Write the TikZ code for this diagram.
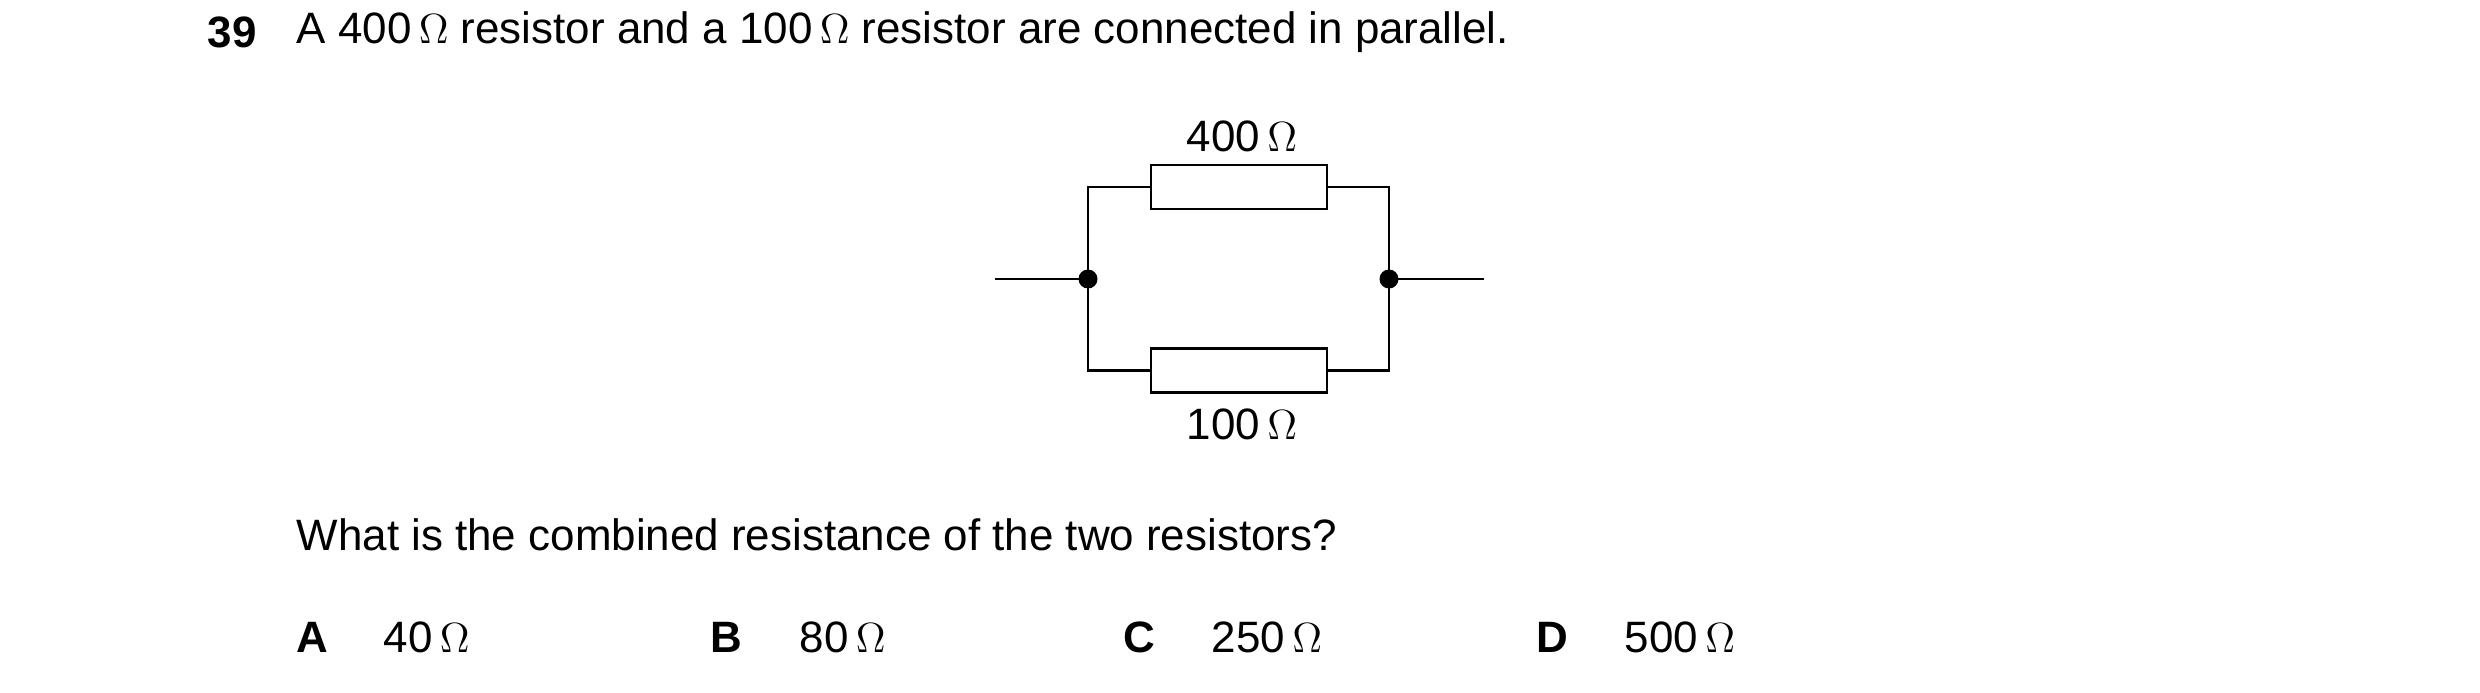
\documentclass[tikz,border=0pt]{standalone}
\usepackage{fontspec}
\setmainfont{Liberation Sans}
\usetikzlibrary{positioning}
\tikzset{
  txt/.style={anchor=west,inner sep=0pt,font=\fontsize{12.5}{15}\selectfont},
  res/.style={draw,thick,minimum width=1.76cm,minimum height=0.44cm,inner sep=0pt},
  wire/.style={thick}
}
\begin{document}
\begin{tikzpicture}
\useasboundingbox (0,0) rectangle (24.8,6.92);
%question
\node[txt,font=\fontsize{12.5}{15}\selectfont\bfseries] (num) at (2.07,6.60){39};
\node[txt] (q) at (2.96,6.60){A 400\,$\Omega$ resistor and a 100\,$\Omega$ resistor are connected in parallel.};
%circuit
\coordinate (inL) at (9.95,4.13);
\coordinate (inR) at (14.84,4.13);
\coordinate (jL) at (10.88,4.13);
\coordinate (jR) at (13.89,4.13);
\node[res] (r1) at (12.39,5.05){};
\node[res] (r2) at (12.39,3.215){};
\draw[wire] (inL) -- (jL) |- (r1.west);
\draw[wire] (jL) |- (r2.west);
\draw[wire] (inR) -- (jR) |- (r1.east);
\draw[wire] (jR) |- (r2.east);
\fill (jL) circle (0.095); \fill (jR) circle (0.095);
\node[font=\fontsize{12.5}{15}\selectfont,inner sep=0pt] (l1) at (12.42,5.56){400\,$\Omega$};
\node[font=\fontsize{12.5}{15}\selectfont,inner sep=0pt] (l2) at (12.42,2.68){100\,$\Omega$};
%options
\node[txt] (ask) at (2.96,1.57){What is the combined resistance of the two resistors?};
\node[txt,font=\fontsize{12.5}{15}\selectfont\bfseries] (oA) at (2.96,0.55){A};
\node[txt] (vA) at (3.83,0.55){40\,$\Omega$};
\node[txt,font=\fontsize{12.5}{15}\selectfont\bfseries] (oB) at (7.10,0.55){B};
\node[txt] (vB) at (7.99,0.55){80\,$\Omega$};
\node[txt,font=\fontsize{12.5}{15}\selectfont\bfseries] (oC) at (11.23,0.55){C};
\node[txt] (vC) at (12.11,0.55){250\,$\Omega$};
\node[txt,font=\fontsize{12.5}{15}\selectfont\bfseries] (oD) at (15.36,0.55){D};
\node[txt] (vD) at (16.24,0.55){500\,$\Omega$};
\end{tikzpicture}
\end{document}
